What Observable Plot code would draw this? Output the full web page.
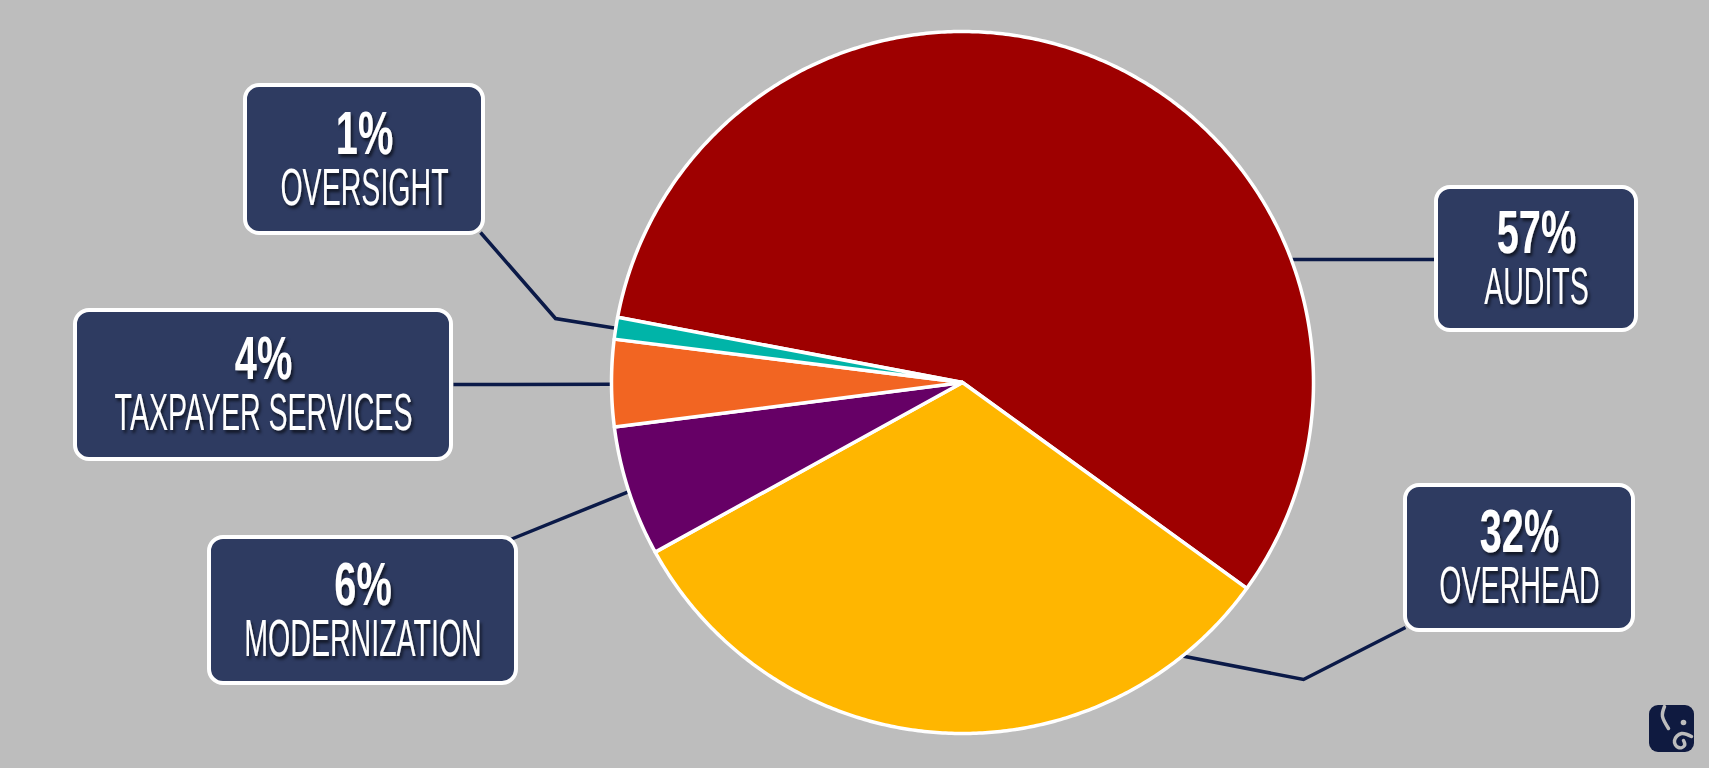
<!DOCTYPE html>
<html>
<head>
<meta charset="utf-8">
<script src="https://cdn.jsdelivr.net/npm/d3@7"></script>
<script src="https://cdn.jsdelivr.net/npm/@observablehq/plot@0.6"></script>
<style>
  html, body { margin: 0; padding: 0; background: #bdbdbd; }
  #chart { width: 1709px; height: 768px; }
</style>
</head>
<body>
<div id="chart"></div>
<script>
// ---------- data ----------
const categories = ["Audits", "Overhead", "Modernization", "Taxpayer Services", "Oversight"];
const shares = [57, 32, 6, 4, 1];
const pctLabels = ["57%", "32%", "6%", "4%", "1%"];
const nameLabels = ["AUDITS", "OVERHEAD", "MODERNIZATION", "TAXPAYER SERVICES", "OVERSIGHT"];
const sliceColors = ["#9e0000", "#ffb600", "#660066", "#f26522", "#00b4a8"];

// ---------- layout (annotation placement, not data) ----------
const W = 1709, H = 768;
const pieCx = 962, pieCy = 382, pieR = 351, pieStartDeg = -79.3;
const boxCenterX = [1536, 1519, 362.5, 263, 364];
const boxCenterY = [258.5, 557.5, 610, 384.5, 159];
const boxWidth = [200, 228, 307, 376, 238];
const boxHeight = [143, 145, 146, 149, 148];
const leaderAngleDeg = [69.5, 141.2, null, 269.7, null];     // null => slice mid-angle
const leaderElbow = [null, [1303, 679], null, null, [555, 318]];
const leaderEnd = [[1434, 259], [1405, 627], [510, 539], [453, 384], [480, 232]];

// ---------- build pie geometry through d3.pie ----------
const toRad = d => d * Math.PI / 180;
const arcs = d3.pie().sort(null).value(d => d)
  .startAngle(toRad(pieStartDeg)).endAngle(toRad(pieStartDeg) + 2 * Math.PI)(shares);

const px = a => pieCx + pieR * Math.sin(a);
const py = a => pieCy - pieR * Math.cos(a);

const slicePts = [];
arcs.forEach((a, i) => {
  const name = categories[i];
  slicePts.push({name, x: pieCx, y: pieCy});
  const n = Math.max(4, Math.ceil((a.endAngle - a.startAngle) / toRad(0.5)));
  for (let k = 0; k <= n; k++) {
    const t = a.startAngle + (a.endAngle - a.startAngle) * k / n;
    slicePts.push({name, x: px(t), y: py(t)});
  }
  slicePts.push({name, x: pieCx, y: pieCy});
});

const leaderPts = [];
arcs.forEach((a, i) => {
  const ang = leaderAngleDeg[i] == null ? (a.startAngle + a.endAngle) / 2 : toRad(leaderAngleDeg[i]);
  leaderPts.push({id: i, x: px(ang), y: py(ang)});
  if (leaderElbow[i]) leaderPts.push({id: i, x: leaderElbow[i][0], y: leaderElbow[i][1]});
  leaderPts.push({id: i, x: leaderEnd[i][0], y: leaderEnd[i][1]});
});

const boxes = categories.map((c, i) => ({
  name: c, pct: pctLabels[i], label: nameLabels[i],
  cx: boxCenterX[i], cy: boxCenterY[i],
  x1: boxCenterX[i] - boxWidth[i] / 2, x2: boxCenterX[i] + boxWidth[i] / 2,
  y1: boxCenterY[i] - boxHeight[i] / 2, y2: boxCenterY[i] + boxHeight[i] / 2
}));

// logo (decoration)
const logo = [{x1: 1649, x2: 1694, y1: 705, y2: 752}];
const logoEar = [{x: 1664, y: 706}, {x: 1662, y: 716}, {x: 1668, y: 728}];
const logoTrunk = [{x: 1691, y: 736}, {x: 1681, y: 733}, {x: 1674, y: 740}, {x: 1678, y: 747}, {x: 1684, y: 745}, {x: 1683, y: 740}];

const font = "'Liberation Sans', Arial, sans-serif";

const chart = Plot.plot({
  width: W, height: H,
  margin: 0,
  style: {background: "#bdbdbd", overflow: "visible"},
  x: {domain: [0, W], range: [0, W], axis: null},
  y: {domain: [0, H], range: [0, H], axis: null},
  color: {domain: categories, range: sliceColors},
  marks: [
    Plot.line(leaderPts, {x: "x", y: "y", z: "id", stroke: "#0b1a48", strokeWidth: 3.5, strokeLinecap: "butt", strokeLinejoin: "miter", strokeMiterlimit: 4}),
    Plot.line(slicePts, {x: "x", y: "y", z: "name", fill: "name", stroke: "white", strokeWidth: 3.5, strokeLinejoin: "round"}),
    Plot.rect(boxes, {x1: "x1", x2: "x2", y1: "y1", y2: "y2", fill: "#2e3b61", stroke: "white", strokeWidth: 4, rx: 14}),
    Plot.text(boxes, {x: "cx", y: "cy", dy: -6, text: "pct", fill: "white", fontSize: 62, fontWeight: "bold", fontFamily: font, textAnchor: "middle", lineAnchor: "bottom", ariaDescription: "pct"}),
    Plot.text(boxes, {x: "cx", y: "cy", dy: 45, text: "label", fill: "white", fontSize: 51, fontWeight: "normal", fontFamily: font, textAnchor: "middle", lineAnchor: "bottom", ariaDescription: "name"}),
    Plot.rect(logo, {x1: "x1", x2: "x2", y1: "y1", y2: "y2", fill: "#0f1a40", rx: 9}),
    Plot.line(logoEar, {x: "x", y: "y", stroke: "#bdbdbd", strokeWidth: 3.5, curve: "natural"}),
    Plot.line(logoTrunk, {x: "x", y: "y", stroke: "#bdbdbd", strokeWidth: 3.5, curve: "natural"}),
    Plot.dot([{x: 1683, y: 722}], {x: "x", y: "y", r: 2.8, fill: "#bdbdbd"})
  ]
});

document.getElementById("chart").appendChild(chart);

// text shadow + condensing (the reference uses a tall condensed typeface)
const svg = d3.select(chart);
const defs = svg.insert("defs", ":first-child");
const f = defs.append("filter").attr("id", "txtshadow").attr("x", "-20%").attr("y", "-20%").attr("width", "140%").attr("height", "150%");
f.append("feDropShadow").attr("dx", 2).attr("dy", 3).attr("stdDeviation", 1.5).attr("flood-color", "#000").attr("flood-opacity", 0.6);

function condense(desc, factor) {
  svg.selectAll(`g[aria-description="${desc}"]`).attr("filter", "url(#txtshadow)");
  svg.selectAll(`g[aria-description="${desc}"] text`).each(function() {
    const w = this.getComputedTextLength();
    this.setAttribute("textLength", (w * factor).toFixed(1));
    this.setAttribute("lengthAdjust", "spacingAndGlyphs");
  });
}
condense("pct", 0.64);
condense("name", 0.56);
</script>
</body>
</html>
